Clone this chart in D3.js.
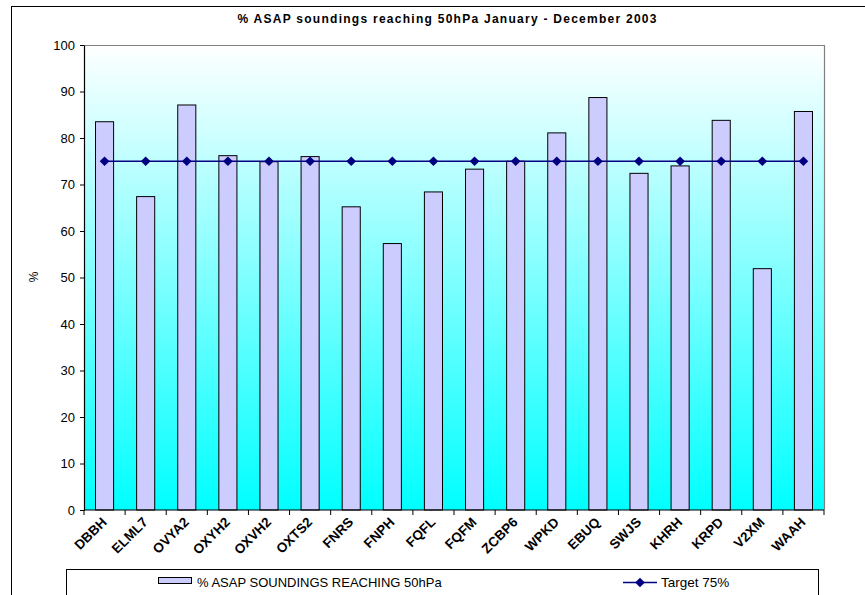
<!DOCTYPE html>
<html>
<head>
<meta charset="utf-8">
<script src="https://cdn.jsdelivr.net/npm/d3@7"></script>
<style>
  html, body { margin: 0; padding: 0; background: #fff; }
  svg { display: block; font-family: "Liberation Sans", Arial, sans-serif; }
</style>
</head>
<body>
<svg id="chart" width="865" height="595"></svg>
<script>
// Stations and their share of soundings reaching 50 hPa (%)
const stations = ["DBBH", "ELML7", "OVYA2", "OXYH2", "OXVH2", "OXTS2", "FNRS", "FNPH", "FQFL",
                  "FQFM", "ZCBP6", "WPKD", "EBUQ", "SWJS", "KHRH", "KRPD", "V2XM", "WAAH"];
const pctReaching = [83.5, 67.4, 87.1, 76.2, 74.9, 76.0, 65.2, 57.3, 68.4,
                     73.3, 75.0, 81.1, 88.7, 72.4, 74.0, 83.8, 51.9, 85.7];
const targetValues = stations.map(() => 75);
const yTicks = [0, 10, 20, 30, 40, 50, 60, 70, 80, 90, 100];

const titleText = "% ASAP soundings reaching 50hPa January - December 2003";
const barLegend = "% ASAP SOUNDINGS REACHING 50hPa";
const lineLegend = "Target 75%";

const svg = d3.select("#chart");
const plot = { left: 84, top: 45, right: 824, bottom: 510 };

const x = d3.scaleBand().domain(stations).range([plot.left, plot.right]).paddingInner(0.56).paddingOuter(0.28);
const xEdges = d3.scaleBand().domain(stations).range([plot.left, plot.right]);
const y = d3.scaleLinear().domain([0, 100]).range([plot.bottom, plot.top]);

// outer chart frame
svg.append("rect").attr("x", 11.5).attr("y", 6.5).attr("width", 870).attr("height", 600)
  .attr("fill", "#fff").attr("stroke", "#000").attr("stroke-width", 1);

// plot background gradient
const defs = svg.append("defs");
const grad = defs.append("linearGradient").attr("id", "bg").attr("x1", 0).attr("y1", 0).attr("x2", 0).attr("y2", 1);
grad.append("stop").attr("offset", "0%").attr("stop-color", "#ffffff");
grad.append("stop").attr("offset", "100%").attr("stop-color", "#00ffff");

svg.append("rect").attr("x", plot.left).attr("y", plot.top)
  .attr("width", plot.right - plot.left).attr("height", plot.bottom - plot.top)
  .attr("fill", "url(#bg)");
svg.append("path")
  .attr("d", `M${plot.left},${plot.top + 0.5}H${plot.right + 0.5}V${plot.bottom}`)
  .attr("fill", "none").attr("stroke", "#808080").attr("stroke-width", 1.2);

// title
svg.append("text").attr("x", 447).attr("y", 23).attr("text-anchor", "middle")
  .attr("font-size", 12).attr("font-weight", "bold")
  .attr("textLength", 419).attr("lengthAdjust", "spacing")
  .text(titleText);

// bars
svg.append("g").selectAll("rect").data(pctReaching).join("rect")
  .attr("x", (d, i) => x(stations[i]))
  .attr("y", d => y(d))
  .attr("width", x.bandwidth())
  .attr("height", d => y(0) - y(d))
  .attr("fill", "#ccccff").attr("stroke", "#000").attr("stroke-width", 1);

// target line with diamond markers
const cx = s => x(s) + x.bandwidth() / 2;
svg.append("path").datum(targetValues)
  .attr("d", d3.line().x((d, i) => cx(stations[i])).y(d => y(d)))
  .attr("fill", "none").attr("stroke", "#000080").attr("stroke-width", 1.5);
svg.append("g").selectAll("path").data(targetValues).join("path")
  .attr("transform", (d, i) => `translate(${cx(stations[i])},${y(d)})`)
  .attr("d", d3.symbol(d3.symbolDiamond2, 60))
  .attr("fill", "#000080");

// y axis
const yAxis = svg.append("g").attr("transform", `translate(${plot.left},0)`)
  .call(d3.axisLeft(y).tickValues(yTicks).tickSize(4).tickSizeOuter(0).tickPadding(5));
yAxis.select(".domain").attr("stroke", "#000").attr("stroke-width", 1.2);
yAxis.selectAll("text").attr("font-size", 13).attr("fill", "#000");

svg.append("text").attr("transform", "translate(38,277) rotate(-90)")
  .attr("text-anchor", "middle").attr("font-size", 12).text("%");

// x axis: ticks sit between categories
const xAxisG = svg.append("g").attr("transform", `translate(0,${plot.bottom})`);
xAxisG.append("line").attr("x1", plot.left).attr("x2", plot.right).attr("stroke", "#000").attr("stroke-width", 1.2);
const boundaries = stations.map(s => xEdges(s)).concat([plot.right]);
xAxisG.selectAll("line.tick").data(boundaries).join("line").attr("class", "tick")
  .attr("x1", d => d).attr("x2", d => d).attr("y1", 0).attr("y2", 5).attr("stroke", "#000");
xAxisG.selectAll("text").data(stations).join("text")
  .attr("transform", s => `translate(${xEdges(s) + xEdges.bandwidth() / 2 + 3},${13}) rotate(-45)`)
  .attr("text-anchor", "end").attr("font-size", 13.5).attr("font-weight", "bold")
  .text(s => s);

// legend
const lg = svg.append("g");
lg.append("rect").attr("x", 66.5).attr("y", 569.5).attr("width", 752).attr("height", 40)
  .attr("fill", "#fff").attr("stroke", "#000");
lg.append("rect").attr("x", 158.5).attr("y", 577.5).attr("width", 33).attr("height", 6)
  .attr("fill", "#ccccff").attr("stroke", "#000");
lg.append("text").attr("x", 197).attr("y", 587).attr("font-size", 13).text(barLegend);
lg.append("line").attr("x1", 623).attr("x2", 657).attr("y1", 582.5).attr("y2", 582.5)
  .attr("stroke", "#000080").attr("stroke-width", 1.5);
lg.append("path").attr("transform", "translate(640,582.5)")
  .attr("d", d3.symbol(d3.symbolDiamond2, 60)).attr("fill", "#000080");
lg.append("text").attr("x", 661).attr("y", 587).attr("font-size", 13.5).text(lineLegend);
</script>
</body>
</html>
